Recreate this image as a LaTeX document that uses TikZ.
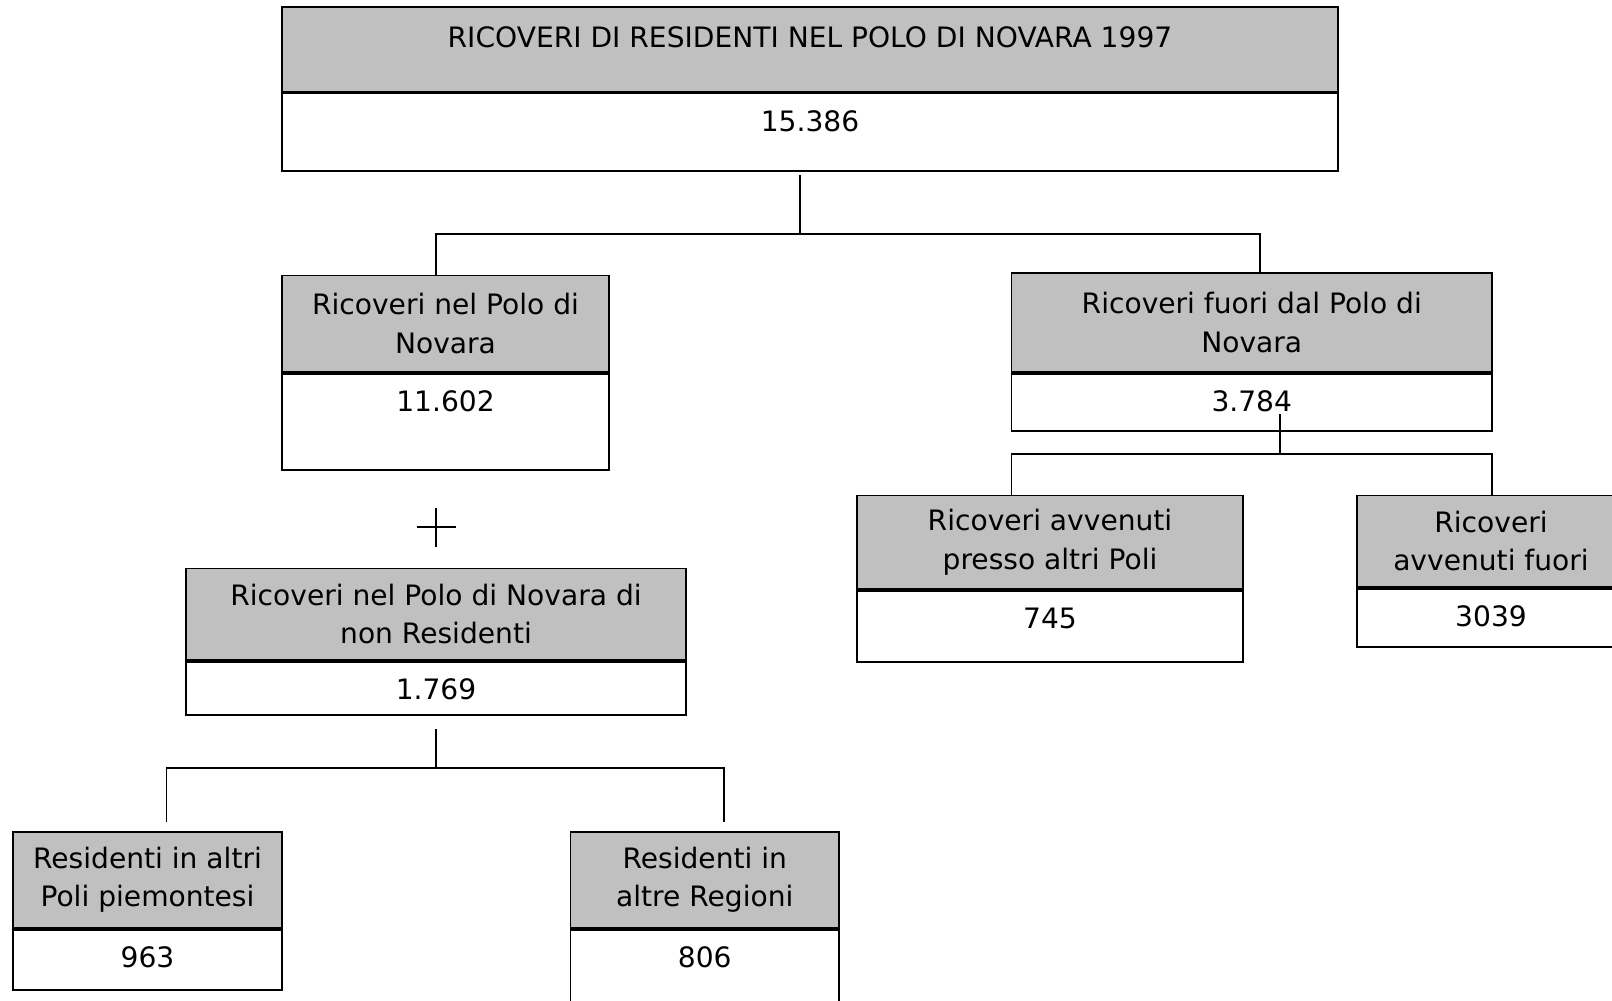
\documentclass[tikz,border=0pt]{standalone}
\usepackage{fontspec}
\setmainfont{DejaVu Sans}
\usetikzlibrary{positioning}
\definecolor{argento}{RGB}{192,192,192}

\begin{document}
\begin{tikzpicture}[
  font=\fontsize{16}{22}\selectfont,
  testa/.style={rectangle, draw, line width=1pt, fill=argento, align=center,
                inner sep=0pt},
  valore/.style={rectangle, draw, line width=1pt, fill=white, inner sep=0pt,
                 text height=0.76cm},
  lin/.style={line width=0.8pt}
]
\fill[white] (0,0) rectangle (32.24,-20);
\useasboundingbox (0,0) rectangle (32.24,-20);

% --- Totale ricoveri ---
\node[testa, anchor=north, minimum width=21.12cm, text height=0.81cm,
      text depth=0.88cm] (tot) at (16.2,-0.12)
      {RICOVERI DI RESIDENTI NEL POLO DI NOVARA 1997};
\node[valore, below=0pt of tot, minimum width=21.12cm, text depth=0.79cm]
      (totv) {15.386};

% --- Primo livello ---
\node[testa, anchor=north, minimum width=6.54cm, minimum height=1.93cm]
      (polo) at (8.91,-5.49) {Ricoveri nel Polo di\\Novara};
\node[valore, below=0pt of polo, minimum width=6.54cm, text depth=1.16cm]
      (polov) {11.602};
\node[testa, anchor=north, minimum width=9.61cm, minimum height=1.98cm]
      (fuori) at (25.035,-5.44) {Ricoveri fuori dal Polo di\\Novara};
\node[valore, below=0pt of fuori, minimum width=9.61cm, text depth=0.38cm]
      (fuoriv) {3.784};

% --- Ricoveri fuori dal Polo ---
\node[testa, anchor=north, minimum width=7.72cm, minimum height=1.87cm]
      (presso) at (21.0,-9.89) {Ricoveri avvenuti\\presso altri Poli};
\node[valore, below=0pt of presso, minimum width=7.72cm, text depth=0.66cm]
      (pressov) {745};
\node[testa, anchor=north, minimum width=5.36cm, minimum height=1.83cm]
      (altrove) at (29.82,-9.89) {Ricoveri\\avvenuti fuori};
\node[valore, below=0pt of altrove, minimum width=5.36cm, text depth=0.41cm]
      (altrovev) {3039};

% --- Non residenti ---
\node[testa, anchor=north, minimum width=10.0cm, minimum height=1.83cm]
      (nonres) at (8.72,-11.35) {Ricoveri nel Polo di Novara di\\non Residenti};
\node[valore, below=0pt of nonres, minimum width=10.0cm, text depth=0.30cm]
      (nonresv) {1.769};
\node[testa, anchor=north, minimum width=5.38cm, minimum height=1.92cm]
      (piem) at (2.95,-16.62) {Residenti in altri\\Poli piemontesi};
\node[valore, below=0pt of piem, minimum width=5.38cm, text depth=0.44cm]
      (piemv) {963};
\node[testa, anchor=north, minimum width=5.37cm, minimum height=1.92cm]
      (regioni) at (14.095,-16.62) {Residenti in\\altre Regioni};
\node[valore, below=0pt of regioni, minimum width=5.37cm, text depth=1.04cm]
      (regioniv) {806};

% --- Collegamenti ---
\coordinate (t1) at (16.0,-3.5);
\coordinate (t2) at (16.0,-4.68);
\coordinate (ts) at (8.72,-4.68);
\coordinate (td) at (25.2,-4.68);
\draw[lin] (t1) -- (t2);
\draw[lin] (ts |- polo.north) -- (ts) -- (td) -- (td |- fuori.north);

\coordinate (f1) at (25.6,-8.28);
\coordinate (f2) at (25.6,-9.08);
\coordinate (fs) at (20.23,-9.08);
\coordinate (fd) at (29.84,-9.08);
\draw[lin] (f1) -- (f2);
\draw[lin] (fs |- presso.north) -- (fs) -- (fd) -- (fd |- altrove.north);

\coordinate (n1) at (8.72,-14.58);
\coordinate (n2) at (8.72,-15.36);
\coordinate (ns) at (3.33,-16.44);
\coordinate (nd) at (14.48,-16.44);
\draw[lin] (n1) -- (n2);
\draw[lin] (ns) |- (n2) -| (nd);

% segno +
\coordinate (piu) at (8.72,-10.54);
\draw[lin] ([xshift=-0.39cm]piu) -- ([xshift=0.39cm]piu)
           ([yshift=-0.39cm]piu) -- ([yshift=0.39cm]piu);

\end{tikzpicture}
\end{document}
